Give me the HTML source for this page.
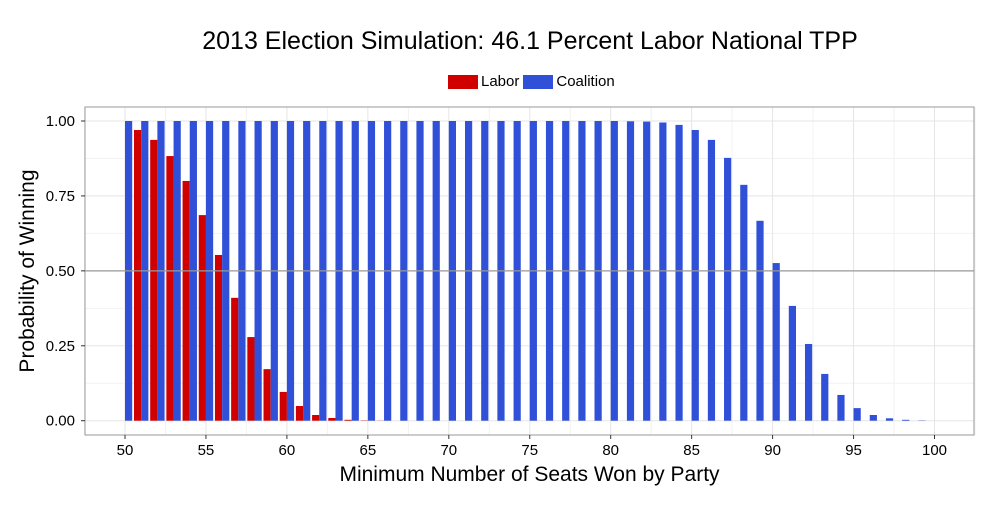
<!DOCTYPE html>
<html><head><meta charset="utf-8"><style>
body{margin:0;background:#fff;font-family:"Liberation Sans",sans-serif}
</style></head><body>
<svg id="c" width="1000" height="500" xmlns="http://www.w3.org/2000/svg"></svg>
<script>
const seats=[];for(let s=50;s<=100;s++)seats.push(s);
const laborVals=[0,0.97,0.937,0.883,0.80,0.686,0.553,0.41,0.279,0.172,0.096,0.049,0.019,0.009,0.003,0.001,0.0005];
const coalitionVals=[1,1,1,1,1,1,1,1,1,1,1,1,1,1,1,1,1,1,1,1,1,1,1,1,1,1,1,1,1,1,1,0.999,0.998,0.995,0.987,0.970,0.937,0.877,0.787,0.667,0.526,0.383,0.256,0.156,0.086,0.042,0.019,0.008,0.003,0.001,0];
const xTicks=[50,55,60,65,70,75,80,85,90,95,100];
const yTicks=[0,0.25,0.5,0.75,1];
const yTickLabels=["0.00","0.25","0.50","0.75","1.00"];
const svg=document.getElementById('c');const NS='http://www.w3.org/2000/svg';
const L=85,R=974,T=107,B=435;
const X=v=>125+(v-50)*16.19;
const Y=v=>420.7-v*299.7;
function mk(t,a,p){const e=document.createElementNS(NS,t);for(const k in a)e.setAttribute(k,a[k]);(p||svg).appendChild(e);return e;}
const panel=mk('rect',{x:L,y:T,width:R-L,height:B-T,fill:'#fff',stroke:'none'});


for(let v=0.125;v<1.1;v+=0.25){const g=mk('line',{x1:L,x2:R,y1:Y(v),y2:Y(v),stroke:'#f2f2f2','stroke-width':1});}
for(let v=47.5;v<=102.5;v+=5){const g=mk('line',{x1:X(v),x2:X(v),y1:T,y2:B,stroke:'#f2f2f2','stroke-width':1});}
yTicks.forEach(v=>{const g=mk('line',{x1:L,x2:R,y1:Y(v),y2:Y(v),stroke:'#e5e5e5','stroke-width':1});});
xTicks.forEach(v=>{const g=mk('line',{x1:X(v),x2:X(v),y1:T,y2:B,stroke:'#e5e5e5','stroke-width':1});});
const bw=7.2;
laborVals.forEach((v,i)=>{if(v<=0)return;const s=seats[i];const r=mk('rect',{x:X(s)-bw,y:Y(v),width:bw,height:Y(0)-Y(v),fill:'#d00000'});});
coalitionVals.forEach((v,i)=>{if(v<=0)return;const s=seats[i];const r=mk('rect',{x:X(s),y:Y(v),width:bw,height:Y(0)-Y(v),fill:'#3050d8'});});
const hl=mk('line',{x1:L,x2:R,y1:Y(0.5),y2:Y(0.5),stroke:'#999','stroke-width':1.3});


const br=mk('rect',{x:L,y:T,width:R-L,height:B-T,fill:'none',stroke:'#999','stroke-width':1});


yTicks.forEach((v,i)=>{const t=mk('line',{x1:L-4,x2:L,y1:Y(v),y2:Y(v),stroke:'#333'});
const tx=mk('text',{x:L-10,y:Y(v)+5,'text-anchor':'end','font-size':15,fill:'#000'});tx.textContent=yTickLabels[i];});
xTicks.forEach(v=>{const t=mk('line',{x1:X(v),x2:X(v),y1:B,y2:B+4,stroke:'#333'});
const tx=mk('text',{x:X(v),y:B+20,'text-anchor':'middle','font-size':15,fill:'#000'});tx.textContent=v;});
</script>
<div style="position:absolute;left:0;top:0;width:1000px;height:500px;pointer-events:none">
<div style="position:absolute;left:0;width:1060px;top:27px;text-align:center;font-size:25px">2013 Election Simulation: 46.1 Percent Labor National TPP</div>
<div style="position:absolute;left:448px;top:73px;font-size:15px;display:flex;align-items:center">
<span style="width:30px;height:14px;background:#d00000;display:inline-block"></span><span style="margin:0 4px 0 3px">Labor</span>
<span style="width:30px;height:14px;background:#3050d8;display:inline-block"></span><span style="margin-left:3px">Coalition</span></div>
<div style="position:absolute;left:85px;width:889px;top:463px;text-align:center;font-size:21px">Minimum Number of Seats Won by Party</div>
<div style="position:absolute;left:-122px;top:259px;width:300px;text-align:center;font-size:21px;white-space:nowrap;transform:rotate(-90deg)">Probability of Winning</div>
</div>
</body></html>
